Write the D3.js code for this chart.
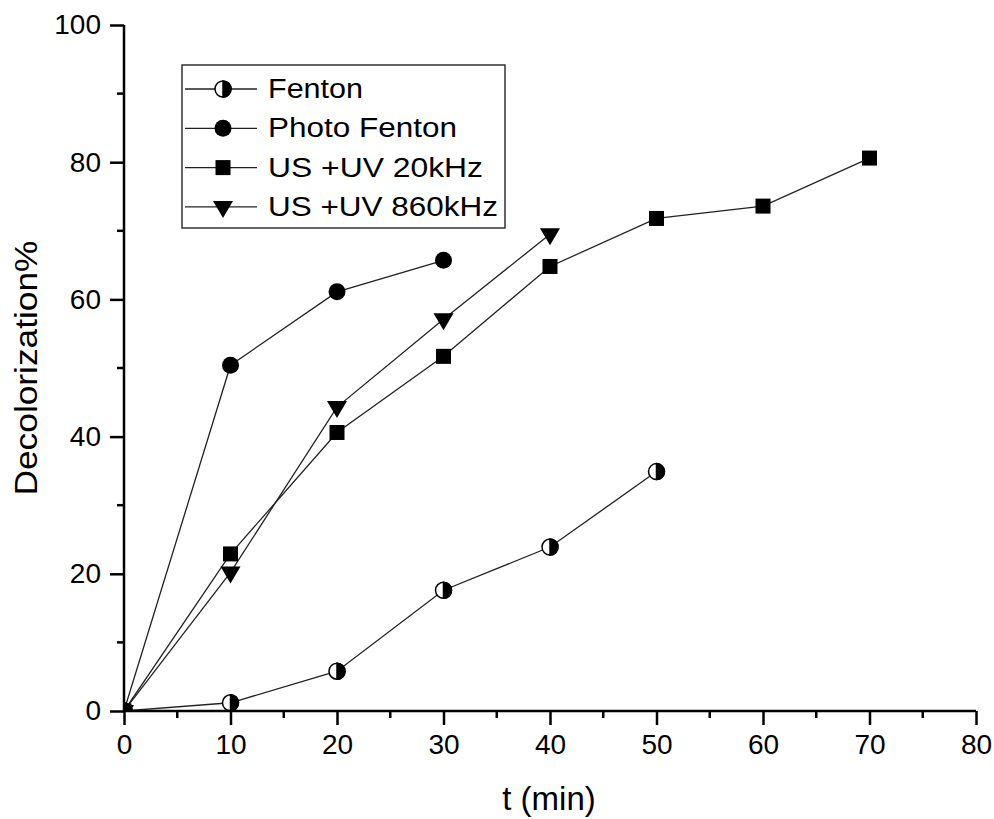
<!DOCTYPE html>
<html>
<head>
<meta charset="utf-8">
<script src="https://cdn.jsdelivr.net/npm/d3@7"></script>
<style>
  html, body { margin: 0; padding: 0; background: #fff; }
  svg { display: block; font-family: Arial, "Liberation Sans", sans-serif; }
</style>
</head>
<body>
<svg id="chart" width="994" height="819"></svg>
<script>
// Decolorization over time for four treatment processes
const times = [0, 10, 20, 30, 40, 50, 60, 70];
const fenton = [0, 1.2, 5.8, 17.6, 23.9, 34.9];
const photoFenton = [0, 50.4, 61.1, 65.7];
const usUv20 = [0, 22.9, 40.6, 51.7, 64.8, 71.8, 73.6, 80.6];
const usUv860 = [0, 20.2, 44.3, 57.1, 69.5];
const seriesNames = ["Fenton", "Photo Fenton", "US +UV 20kHz", "US +UV 860kHz"];
const seriesValues = [fenton, photoFenton, usUv20, usUv860];
const seriesSymbols = ["half", "circle", "square", "triangle"];
const xTicks = [0, 10, 20, 30, 40, 50, 60, 70, 80];
const yTicks = [0, 20, 40, 60, 80, 100];

const svg = d3.select("#chart");
const plotLeft = 124, plotRight = 976, plotTop = 25, plotBottom = 711;

const x = d3.scaleLinear().domain([0, 80]).range([plotLeft, plotRight]);
const y = d3.scaleLinear().domain([0, 100]).range([plotBottom, plotTop]);

svg.append("defs").append("clipPath").attr("id", "plotClip")
  .append("rect").attr("x", plotLeft).attr("y", plotTop - 20)
  .attr("width", plotRight - plotLeft + 20).attr("height", plotBottom - plotTop + 20);

// Marker drawing
function drawMarker(g, type, cx, cy) {
  if (type === "circle") {
    g.append("circle").attr("cx", cx).attr("cy", cy).attr("r", 8.5).attr("fill", "#000");
  } else if (type === "half") {
    const r = 8;
    g.append("circle").attr("cx", cx).attr("cy", cy).attr("r", r)
      .attr("fill", "#fff").attr("stroke", "#000").attr("stroke-width", 1.5);
    g.append("path")
      .attr("d", `M${cx},${cy - r} A${r},${r} 0 0 1 ${cx},${cy + r} Z`)
      .attr("fill", "#000").attr("stroke", "#000").attr("stroke-width", 1.5);
  } else if (type === "square") {
    g.append("rect").attr("x", cx - 7.5).attr("y", cy - 7.5)
      .attr("width", 15).attr("height", 15).attr("fill", "#000");
  } else if (type === "triangle") {
    g.append("path")
      .attr("d", `M${cx - 10},${cy - 6} L${cx + 10},${cy - 6} L${cx},${cy + 11} Z`)
      .attr("fill", "#000");
  }
}

const line = d3.line().x(d => x(d[0])).y(d => y(d[1]));
const plot = svg.append("g").attr("clip-path", "url(#plotClip)");

seriesValues.forEach((vals, i) => {
  const pts = vals.map((v, j) => [times[j], v]);
  plot.append("path").datum(pts).attr("d", line)
    .attr("fill", "none").attr("stroke", "#222").attr("stroke-width", 1.3);
});
seriesValues.forEach((vals, i) => {
  const g = plot.append("g");
  vals.forEach((v, j) => drawMarker(g, seriesSymbols[i], x(times[j]), y(v)));
});

// Axes
const xAxis = svg.append("g").attr("transform", `translate(0,${plotBottom})`)
  .call(d3.axisBottom(x).tickValues(xTicks).tickSize(14).tickSizeOuter(0).tickPadding(9));
const yAxis = svg.append("g").attr("transform", `translate(${plotLeft},0)`)
  .call(d3.axisLeft(y).tickValues(yTicks).tickSize(14).tickSizeOuter(0).tickPadding(9));

// Minor ticks
svg.append("g").selectAll("line").data(d3.range(5, 80, 10)).join("line")
  .attr("x1", d => x(d)).attr("x2", d => x(d)).attr("y1", plotBottom).attr("y2", plotBottom + 7)
  .attr("stroke", "#000").attr("stroke-width", 2.5);
svg.append("g").selectAll("line").data(d3.range(10, 100, 20)).join("line")
  .attr("y1", d => y(d)).attr("y2", d => y(d)).attr("x1", plotLeft).attr("x2", plotLeft - 7)
  .attr("stroke", "#000").attr("stroke-width", 2.5);

[xAxis, yAxis].forEach(a => {
  a.select(".domain").attr("stroke", "#000").attr("stroke-width", 2.5);
  a.selectAll(".tick line").attr("stroke", "#000").attr("stroke-width", 2.5);
  a.selectAll(".tick text").attr("font-size", 28).attr("fill", "#000")
    .attr("font-family", "Arial, 'Liberation Sans', sans-serif");
});
xAxis.select(".domain").attr("d", `M${plotLeft - 1},0H${plotRight}`);
yAxis.select(".domain").attr("d", `M0,${plotBottom + 1}V${plotTop}`);

// Axis titles
svg.append("text").attr("x", 549).attr("y", 810).attr("text-anchor", "middle")
  .attr("font-size", 33).attr("fill", "#000").text("t (min)");
svg.append("text").attr("transform", "translate(37,368) rotate(-90)")
  .attr("text-anchor", "middle").attr("font-size", 32).attr("fill", "#000")
  .attr("textLength", 255).attr("lengthAdjust", "spacingAndGlyphs")
  .text("Decolorization%");

// Legend
const legend = svg.append("g");
legend.append("rect").attr("x", 182).attr("y", 65).attr("width", 323).attr("height", 163)
  .attr("fill", "#fff").attr("stroke", "#333").attr("stroke-width", 1.5);
const legendWidths = [95, 189, 215, 230];
seriesNames.forEach((name, i) => {
  const base = 98 + i * 39.3;
  const cy = base - 9;
  legend.append("line").attr("x1", 185).attr("x2", 257).attr("y1", cy).attr("y2", cy)
    .attr("stroke", "#222").attr("stroke-width", 1.3);
  drawMarker(legend, seriesSymbols[i], 223, cy);
  legend.append("text").attr("x", 268).attr("y", base).attr("font-size", 27)
    .attr("fill", "#000").attr("textLength", legendWidths[i])
    .attr("lengthAdjust", "spacingAndGlyphs").text(name);
});
</script>
</body>
</html>
